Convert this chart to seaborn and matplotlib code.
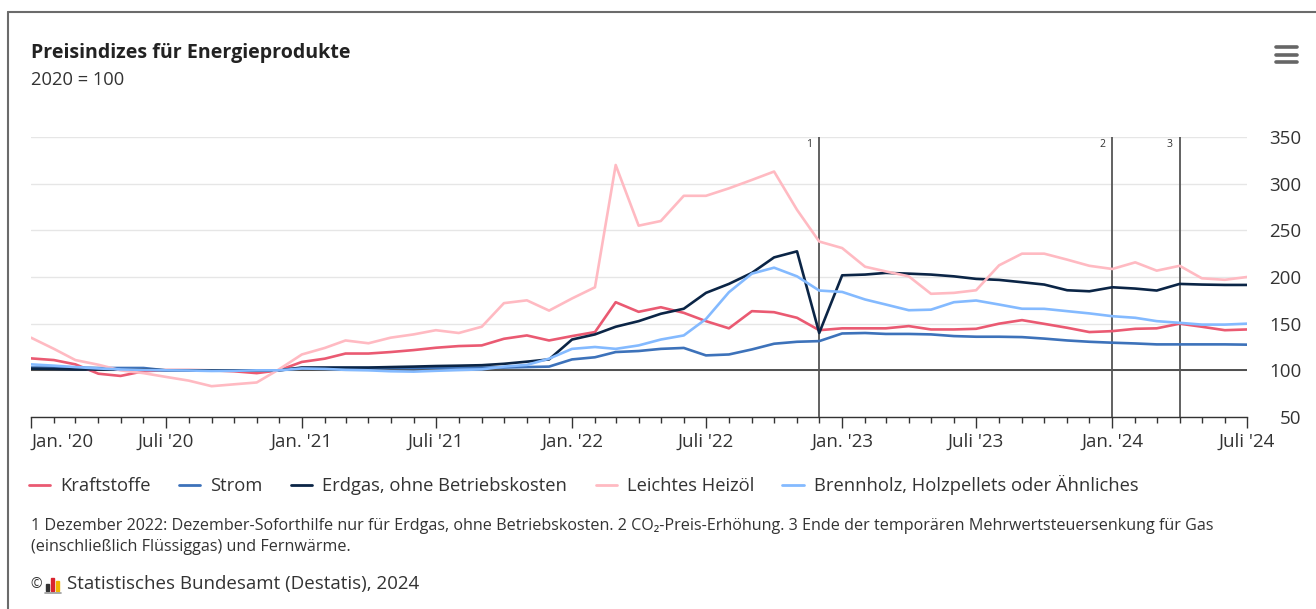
import pandas as pd
import seaborn as sns
import matplotlib.pyplot as plt
import matplotlib.dates as mdates
from matplotlib.lines import Line2D
from matplotlib.patches import Rectangle

# === DATA ===
months = pd.date_range('2020-01-01', '2024-07-01', freq='MS')

kraftstoffe = [112.8, 111.0, 106.4, 96.4, 94.0, 99.0, 100.3, 100.3, 100.0, 99.0, 97.0, 100.0,
               109.0, 112.5, 118.0, 118.0, 119.6, 121.7, 124.2, 126.0, 126.7, 133.8, 137.4, 132.0,
               136.7, 141.0, 173.0, 162.7, 167.6, 161.6, 152.7, 145.0, 163.4, 162.3, 156.3, 143.0,
               145.0, 145.0, 145.0, 147.4, 143.8, 143.8, 144.5, 150.0, 153.8, 149.8, 145.6, 141.0,
               142.0, 144.5, 145.0, 150.0, 146.7, 143.0, 143.8]
strom = [103.0, 103.0, 103.0, 102.5, 102.5, 102.5, 100.0, 100.0, 100.0, 100.0, 100.0, 100.0,
         102.5, 102.5, 102.5, 102.5, 102.5, 102.5, 102.8, 103.0, 103.0, 103.0, 103.5, 104.0,
         111.7, 114.0, 119.6, 120.7, 123.0, 124.0, 116.0, 117.0, 122.4, 128.5, 130.6, 131.3,
         139.5, 140.0, 139.0, 139.0, 138.5, 136.7, 136.0, 136.0, 135.6, 134.0, 132.0, 130.6,
         129.6, 128.8, 127.8, 127.8, 127.8, 127.8, 127.5]
erdgas = [101.8, 101.5, 101.0, 101.0, 101.0, 101.0, 100.0, 100.0, 100.0, 100.0, 100.0, 100.0,
          103.0, 103.0, 103.0, 103.0, 103.5, 104.0, 104.6, 105.0, 105.5, 107.0, 109.3, 111.7,
          133.0, 138.5, 146.7, 152.7, 160.6, 166.0, 183.0, 192.6, 204.4, 221.0, 227.5, 140.0,
          201.8, 202.6, 204.4, 203.6, 202.6, 200.7, 198.0, 196.9, 194.4, 191.9, 185.8, 184.7,
          189.0, 187.6, 185.5, 192.6, 191.9, 191.5, 191.5]
heizoel = [135.0, 123.0, 111.0, 106.0, 100.0, 97.0, 93.0, 89.0, 83.0, 85.0, 87.0, 101.0,
           117.0, 124.0, 132.0, 129.0, 135.0, 138.5, 143.0, 140.0, 146.7, 172.0, 175.0, 164.0,
           177.0, 189.0, 320.0, 255.0, 260.0, 287.0, 287.0, 295.0, 304.0, 313.0, 272.0, 238.0,
           231.0, 211.0, 206.0, 200.7, 182.0, 183.0, 185.8, 212.5, 225.0, 225.0, 218.6, 212.0,
           208.6, 215.7, 206.8, 212.0, 198.6, 197.0, 200.0]
brennholz = [106.4, 105.0, 103.5, 102.0, 101.0, 100.5, 100.0, 99.8, 99.3, 99.5, 100.0, 100.0,
             102.0, 101.5, 100.5, 100.0, 99.0, 98.6, 99.5, 100.3, 101.0, 104.0, 105.8, 112.5,
             123.0, 125.0, 123.0, 126.7, 133.0, 137.4, 155.0, 183.7, 203.6, 210.0, 200.7, 185.5,
             184.0, 175.9, 170.5, 164.4, 165.0, 173.0, 174.8, 170.5, 166.0, 165.9, 163.4, 161.0,
             158.0, 156.3, 152.7, 150.9, 149.0, 149.0, 150.0]

series_names = ['Kraftstoffe', 'Strom', 'Erdgas, ohne Betriebskosten',
                'Leichtes Heizöl', 'Brennholz, Holzpellets oder Ähnliches']
colors = ['#ea5a72', '#3d72ba', '#0b2546', '#ffbac2', '#84baff']

y_ticks = [50, 100, 150, 200, 250, 300, 350]
tick_labels = ["Jan. '20", "Juli '20", "Jan. '21", "Juli '21", "Jan. '22",
               "Juli '22", "Jan. '23", "Juli '23", "Jan. '24", "Juli '24"]
note_dates = pd.to_datetime(['2022-12-01', '2024-01-01', '2024-04-01'])
note_marks = ['1', '2', '3']

title = 'Preisindizes für Energieprodukte'
subtitle = '2020 = 100'
footnote_1 = ('1 Dezember 2022: Dezember-Soforthilfe nur für Erdgas, ohne Betriebskosten. '
              '2 CO₂-Preis-Erhöhung. 3 Ende der temporären Mehrwertsteuersenkung für Gas')
footnote_2 = '(einschließlich Flüssiggas) und Fernwärme.'
source = 'Statistisches Bundesamt (Destatis), 2024'

# === PLOT ===
sns.set_style('white')
plt.rcParams['font.family'] = ['Open Sans', 'DejaVu Sans']
plt.rcParams['text.color'] = '#333333'

W, H = 1316, 609
fig = plt.figure(figsize=(W / 100, H / 100), dpi=100)


def fx(px):
    return px / W


def fy(py):
    return 1 - py / H


ax = fig.add_axes([fx(31), fy(417), fx(1247 - 31), (417 - 137) / H])

df = pd.DataFrame({'Monat': months, 'Kraftstoffe': kraftstoffe, 'Strom': strom,
                   'Erdgas, ohne Betriebskosten': erdgas, 'Leichtes Heizöl': heizoel,
                   'Brennholz, Holzpellets oder Ähnliches': brennholz})
long_df = df.melt(id_vars='Monat', var_name='Reihe', value_name='Wert')

sns.lineplot(data=long_df, x='Monat', y='Wert', hue='Reihe', hue_order=series_names,
             palette=dict(zip(series_names, colors)), estimator=None,
             linewidth=1.9, legend=False, ax=ax, zorder=3)

ax.set_xlim(months[0], months[-1])
ax.set_ylim(50, 350)
ax.set_xlabel('')
ax.set_ylabel('')

# grid + reference line
ax.set_yticks(y_ticks)
ax.yaxis.grid(True, color='#e6e6e6', lw=1)
ax.set_axisbelow(True)
ax.axhline(100, color='#333333', lw=1.2, zorder=2)
for d, m in zip(note_dates, note_marks):
    ax.axvline(d, color='#555555', lw=1.3, zorder=2)
    ax.annotate(m, xy=(d, 350), xytext=(-5, -1.5), textcoords='offset points',
                ha='right', va='top', fontsize=7.5, color='#333333')

for s in ['top', 'left', 'right']:
    ax.spines[s].set_visible(False)
ax.spines['bottom'].set_color('#333333')
ax.spines['bottom'].set_linewidth(1)

# y ticks on the right, right-aligned
ax.yaxis.tick_right()
ax.tick_params(axis='y', length=0, pad=39, labelsize=13.5, labelcolor='#333333')
for t in ax.yaxis.get_major_ticks():
    t.label2.set_horizontalalignment('right')

# x ticks
ax.set_xticks(months[::6])
ax.set_xticklabels(tick_labels)
ax.xaxis.set_minor_locator(mdates.MonthLocator())
ax.tick_params(axis='x', which='major', length=8, width=1, color='#333333',
               pad=3.5, labelsize=13.5, labelcolor='#333333', direction='out', bottom=True)
ax.tick_params(axis='x', which='minor', length=4.5, width=1, color='#333333',
               direction='out', bottom=True)
ax.get_xticklabels()[0].set_ha('left')

# legend
handles = [Line2D([], [], color=c, lw=2) for c in colors]
fig.legend(handles, series_names, loc='center left', bbox_to_anchor=(fx(29), fy(485)),
           ncol=5, frameon=False, fontsize=13.2, handlelength=1.15, handletextpad=0.55,
           columnspacing=1.55, borderpad=0, borderaxespad=0)

# texts
fig.text(fx(31), fy(53), title, fontsize=14.1, fontweight='bold', color='#222222', va='center')
fig.text(fx(31), fy(80), subtitle, fontsize=13.2, color='#333333', va='center')
fig.text(fx(31), fy(526), footnote_1, fontsize=11.6, color='#333333', va='center')
fig.text(fx(31), fy(547), footnote_2, fontsize=11.6, color='#333333', va='center')
fig.text(fx(30), fy(585), '©', fontsize=10, color='#333333', va='center')
fig.text(fx(67), fy(584), source, fontsize=13.5, color='#333333', va='center')

# small logo next to the copyright sign
for x0, h, c in [(46, 7, '#333333'), (51, 13, '#d9232e'), (56, 10, '#f0b400')]:
    fig.patches.append(Rectangle((fx(x0), fy(591)), fx(3.5), h / H, color=c,
                                 transform=fig.transFigure, figure=fig))
fig.lines.append(Line2D([fx(45), fx(61)], [fy(592.5), fy(592.5)], color='#999999', lw=1.2,
                        transform=fig.transFigure))

# menu icon
for yy in [47, 54.5, 62]:
    fig.lines.append(Line2D([fx(1276), fx(1297)], [fy(yy), fy(yy)], color='#666666', lw=2.6,
                            solid_capstyle='round', transform=fig.transFigure))

# frame
fig.lines.append(Line2D([fx(7.5), fx(W)], [fy(12), fy(12)], color='#6b6b6b', lw=1.5,
                        transform=fig.transFigure))
fig.lines.append(Line2D([fx(7.5), fx(7.5)], [fy(12), fy(H)], color='#6b6b6b', lw=1.5,
                        transform=fig.transFigure))

fig.savefig('out.png', dpi=100)
